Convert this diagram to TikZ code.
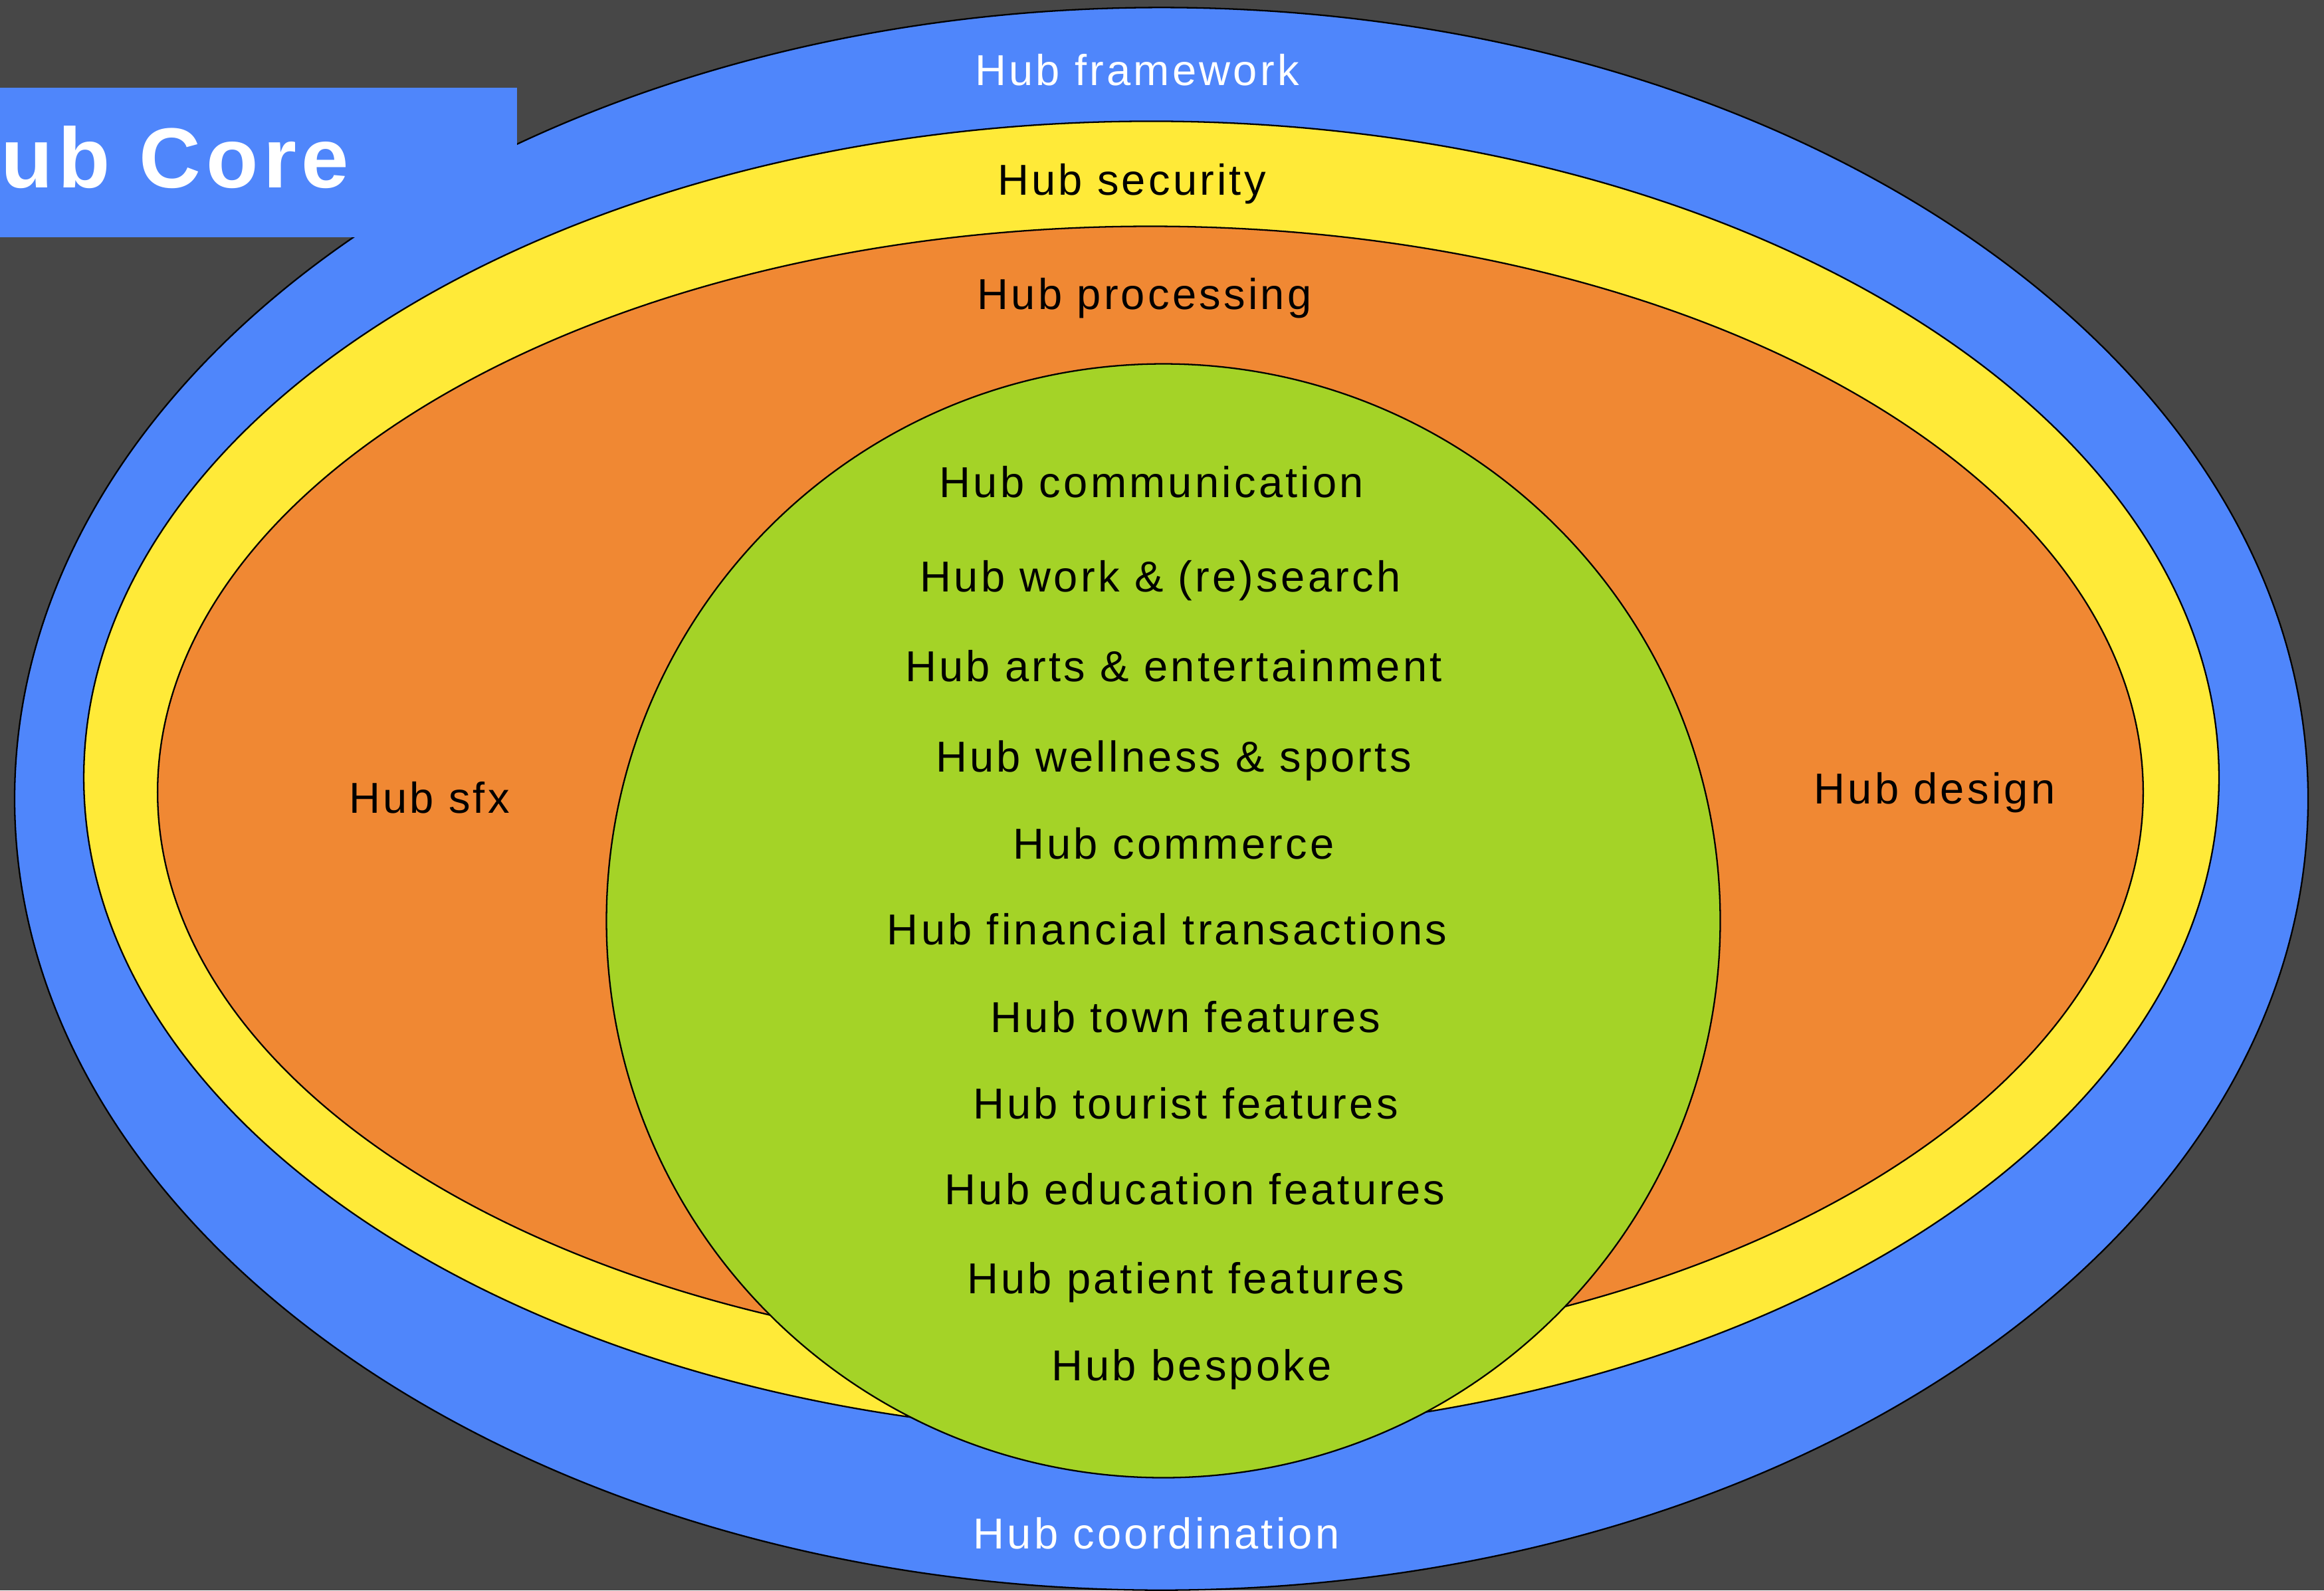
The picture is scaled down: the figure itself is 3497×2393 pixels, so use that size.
\documentclass[tikz,border=0pt]{standalone}
\usepackage{fontspec}
\setmainfont{Liberation Sans}[LetterSpace=6.5]
\newfontfamily\corefont{Liberation Sans Bold}[LetterSpace=6]
\definecolor{bgc}{HTML}{474747}
\definecolor{hubblue}{HTML}{4F86FB}
\definecolor{hubyellow}{HTML}{FFEA38}
\definecolor{huborange}{HTML}{F08833}
\definecolor{hubgreen}{HTML}{A4D327}
\begin{document}
\begin{tikzpicture}[x=0.01cm,y=-0.01cm,
  ring/.style={draw=black,line width=0.65pt},
  lbl/.style={anchor=base,inner sep=0pt,font=\fontsize{18.5}{22}\selectfont,text=black},
  lblw/.style={lbl,text=white}]
\useasboundingbox (0,0) rectangle (3497,2393);
\clip (0,0) rectangle (3497,2393);
\fill[bgc] (0,0) rectangle (3497,2393);
% rings
\filldraw[ring,fill=hubblue] (1747.5,1202) ellipse [x radius=17.245cm, y radius=11.90cm];
\fill[hubblue] (-100,132) rectangle (778,357);
\node[anchor=base east,inner sep=0pt,text=white,font=\corefont\fontsize{36.5}{40}\selectfont] (core) at (526,282) {Hub Core};
\filldraw[ring,fill=hubyellow] (1732.5,1170) ellipse [x radius=16.055cm, y radius=9.87cm];
\filldraw[ring,fill=huborange] (1731,1192) ellipse [x radius=14.93cm, y radius=8.51cm];
\filldraw[ring,fill=hubgreen] (1750.5,1385.5) circle [radius=8.375cm];
% labels
\node[lblw] (framework) at (1711,128) {Hub framework};
\node[lbl] (security) at (1703,293) {Hub security};
\node[lbl] (processing) at (1722,465) {Hub processing};
\node[lbl] (sfx) at (646,1223) {Hub sfx};
\node[lbl] (design) at (2911,1209) {Hub design};
\node[lbl] (communication) at (1733,748) {Hub communication};
\node[lbl] (work) at (1746,890) {Hub work \& (re)search};
\node[lbl] (arts) at (1766,1025) {Hub arts \& entertainment};
\node[lbl] (wellness) at (1766,1161) {Hub wellness \& sports};
\node[lbl] (commerce) at (1766,1292) {Hub commerce};
\node[lbl] (financial) at (1756,1421) {Hub financial transactions};
\node[lbl] (town) at (1784,1553) {Hub town features};
\node[lbl] (tourist) at (1784,1683) {Hub tourist features};
\node[lbl] (education) at (1798,1812) {Hub education features};
\node[lbl] (patient) at (1784,1946) {Hub patient features};
\node[lbl] (bespoke) at (1793,2077) {Hub bespoke};
\node[lblw] (coordination) at (1740,2330) {Hub coordination};
\end{tikzpicture}
\end{document}
